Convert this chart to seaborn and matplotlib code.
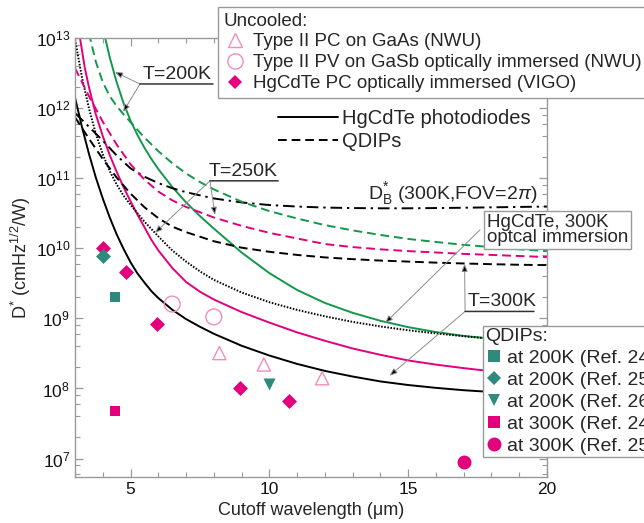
import matplotlib
matplotlib.use("Agg")
import matplotlib.pyplot as plt
from matplotlib.lines import Line2D
from matplotlib.ticker import LogLocator, MultipleLocator, NullFormatter, FixedLocator
import seaborn as sns

# ---- curves: cutoff wavelength (um) vs D* (cmHz^1/2/W) ----
pd300_x = [3.0, 3.25, 3.5, 3.75, 4.0, 4.25, 4.5, 4.75, 5.0, 5.25, 5.5, 5.75, 6.0, 6.5, 7.0, 7.5,
           8.0, 9.0, 10, 11, 12, 13, 14, 15, 16, 17, 18, 19, 20]
pd300_y = [1.41e12, 5.37e11, 2.24e11, 1.02e11, 5.13e10, 2.75e10, 1.58e10, 9.77e9, 6.31e9, 4.37e9,
           3.24e9, 2.45e9, 1.95e9, 1.33e9, 9.77e8, 7.59e8, 6.03e8, 4.07e8, 2.95e8, 2.24e8, 1.78e8,
           1.48e8, 1.26e8, 1.12e8, 1.02e8, 9.44e7, 8.91e7, 8.51e7, 8.13e7]

pd250_x = [3.17, 3.2, 3.35, 3.5, 3.75, 4.0, 4.25, 4.5, 4.75, 5.0, 5.25, 5.5, 5.75, 6.0, 6.5, 7.0,
           7.5, 8.0, 9.0, 10, 11, 12, 13, 14, 15, 16, 17, 18, 19, 20]
pd250_y = [1.07e13, 8.9e12, 3.8e12, 2.0e12, 8.1e11, 3.98e11, 2.14e11, 1.23e11, 7.41e10, 4.68e10,
           3.02e10, 2.0e10, 1.32e10, 9.33e9, 5.25e9, 3.31e9, 2.4e9, 1.86e9, 1.23e9, 8.71e8, 6.31e8,
           4.79e8, 3.72e8, 3.02e8, 2.51e8, 2.19e8, 1.95e8, 1.76e8, 1.62e8, 1.51e8]

pd200_x = [4.0, 4.25, 4.5, 4.75, 5.0, 5.25, 5.5, 5.75, 6.0, 6.5, 7.0, 7.5, 8.0, 9.0, 10, 11, 12,
           13, 14, 15, 16, 17, 18, 19, 20]
pd200_y = [1.41e13, 5.31e12, 2.34e12, 1.17e12, 6.61e11, 4.12e11, 2.72e11, 1.88e11, 1.35e11, 7.5e10,
           4.52e10, 2.88e10, 1.91e10, 8.71e9, 4.42e9, 2.54e9, 1.66e9, 1.2e9, 9.23e8, 7.5e8, 6.38e8,
           5.62e8, 5.13e8, 4.73e8, 4.47e8]

immersion_x = [3.0, 3.25, 3.5, 3.75, 4.0, 4.25, 4.5, 4.75, 5.0, 5.5, 6.0, 6.5, 7.0, 7.5, 8.0, 9.0,
               10, 11, 12, 13, 14, 15, 16, 17, 18, 19, 20]
immersion_y = [9.55e12, 2.75e12, 1.0e12, 4.27e11, 2.19e11, 1.26e11, 8.13e10, 5.62e10, 4.17e10,
               2.4e10, 1.48e10, 9.33e9, 6.46e9, 4.68e9, 3.55e9, 2.34e9, 1.7e9, 1.32e9, 1.07e9,
               8.91e8, 7.67e8, 6.76e8, 6.1e8, 5.56e8, 5.13e8, 4.79e8, 4.52e8]

blip_x = [3.0, 3.5, 4.0, 4.5, 5.0, 5.5, 6.0, 6.5, 7.0, 8.0, 9.0, 10, 11, 12, 13, 14, 15, 16, 17,
          18, 19, 20]
blip_y = [8.51e11, 5.43e11, 3.43e11, 2.11e11, 1.38e11, 1.05e11, 8.51e10, 7.21e10, 6.31e10, 5.14e10,
          4.51e10, 4.14e10, 3.94e10, 3.81e10, 3.75e10, 3.72e10, 3.72e10, 3.75e10, 3.79e10,
          3.84e10, 3.89e10, 3.94e10]

qdip200_x = [3.5, 3.75, 4.0, 4.25, 4.5, 4.75, 5.0, 5.5, 6.0, 6.5, 7.0, 7.5, 8.0, 9.0, 10, 11, 12,
             13, 14, 15, 16, 17, 18, 19, 20]
qdip200_y = [1.17e13, 4.57e12, 2.34e12, 1.48e12, 1.07e12, 8.13e11, 6.31e11, 3.8e11, 2.43e11,
             1.64e11, 1.17e11, 8.81e10, 6.92e10, 4.62e10, 3.39e10, 2.66e10, 2.14e10, 1.8e10,
             1.55e10, 1.36e10, 1.23e10, 1.12e10, 1.04e10, 9.66e9, 9.12e9]

qdip250_x = [3.0, 3.5, 4.0, 4.5, 5.0, 5.5, 6.0, 6.5, 7.0, 8.0, 9.0, 10, 11, 12, 13, 14, 15, 16,
             17, 18, 19, 20]
qdip250_y = [3.72e12, 1.48e12, 6.38e11, 3.02e11, 1.58e11, 9.55e10, 6.46e10, 4.84e10, 3.89e10,
             2.75e10, 2.09e10, 1.66e10, 1.38e10, 1.15e10, 1.04e10, 9.66e9, 9.12e9, 8.71e9,
             8.32e9, 8.04e9, 7.76e9, 7.5e9]

qdip300_x = [3.0, 3.5, 4.0, 4.5, 5.0, 5.5, 6.0, 6.5, 7.0, 8.0, 9.0, 10, 11, 12, 13, 14, 15, 16,
             17, 18, 19, 20]
qdip300_y = [7.41e11, 3.67e11, 1.88e11, 1.02e11, 6.03e10, 3.85e10, 2.69e10, 2.04e10, 1.7e10,
             1.26e10, 1.02e10, 8.91e9, 8.04e9, 7.41e9, 7.0e9, 6.68e9, 6.46e9, 6.24e9, 6.07e9,
             5.93e9, 5.82e9, 5.75e9]

# ---- measured detectors ----
t2pc_x, t2pc_y = [8.2, 9.8, 11.9], [3.2e8, 2.2e8, 1.4e8]
t2pv_x, t2pv_y = [6.5, 8.0], [1.6e9, 1.05e9]
vigo_x = [4.0, 4.85, 5.95, 8.95, 10.7]
vigo_y = [1.0e10, 4.6e9, 8.4e8, 1.0e8, 6.7e7]

q200_r24_x, q200_r24_y = [4.45], [2.0e9]
q200_r25_x, q200_r25_y = [4.0], [7.8e9]
q200_r26_x, q200_r26_y = [10.0], [1.15e8]
q300_r24_x, q300_r24_y = [4.45], [4.7e7]
q300_r25_x, q300_r25_y = [17.0], [8.8e6]

uncooled_labels = ["Type II PC on GaAs (NWU)",
                   "Type II PV on GaSb optically immersed (NWU)",
                   "HgCdTe PC optically immersed (VIGO)"]
qdip_labels = ["at 200K (Ref. 24)", "at 200K (Ref. 25)", "at 200K (Ref. 26)",
               "at 300K (Ref. 24)", "at 300K (Ref. 25)"]

GREEN = "#12984A"
MAGENTA = "#E4007C"
TEAL = "#2E8A7C"
PINK = "#F08DBD"
GREY = "#9a9a9a"

sns.set_style("ticks")
plt.rcParams["font.family"] = ["Liberation Sans", "DejaVu Sans"]
plt.rcParams["mathtext.fontset"] = "custom"
plt.rcParams["mathtext.rm"] = "Liberation Sans"
plt.rcParams["mathtext.it"] = "Liberation Sans:italic"

fig, ax = plt.subplots(figsize=(6.44, 5.23), dpi=100)
fig.subplots_adjust(left=0.1165, right=0.8494, bottom=0.088, top=0.9273)
ax.set_yscale("log")

DASH = (0, (4.5, 2.5))
curves = [
    (pd300_x, pd300_y, "black", "-"),
    (pd250_x, pd250_y, MAGENTA, "-"),
    (pd200_x, pd200_y, GREEN, "-"),
    (immersion_x, immersion_y, "black", (0, (0.8, 0.8))),
    (blip_x, blip_y, "black", (0, (6, 2.5, 1.2, 2.5))),
    (qdip200_x, qdip200_y, GREEN, DASH),
    (qdip250_x, qdip250_y, MAGENTA, DASH),
    (qdip300_x, qdip300_y, "black", DASH),
]
for cx, cy, col, ls in curves:
    sns.lineplot(x=cx, y=cy, color=col, linestyle=ls, linewidth=1.4,
                 estimator=None, sort=False, ax=ax, legend=False)

# measured points
sns.scatterplot(x=t2pc_x, y=t2pc_y, marker="^", s=90, facecolors="none",
                edgecolor=PINK, linewidth=1.0, ax=ax, legend=False, zorder=3)
sns.scatterplot(x=t2pv_x, y=t2pv_y, marker="o", s=130, facecolors="none",
                edgecolor=PINK, linewidth=1.0, ax=ax, legend=False, zorder=3)
sns.scatterplot(x=vigo_x, y=vigo_y, marker="D", s=58, color=MAGENTA,
                linewidth=0, ax=ax, legend=False, zorder=3)
sns.scatterplot(x=q200_r24_x, y=q200_r24_y, marker="s", s=62, color=TEAL,
                linewidth=0, ax=ax, legend=False, zorder=3)
sns.scatterplot(x=q200_r25_x, y=q200_r25_y, marker="D", s=58, color=TEAL,
                linewidth=0, ax=ax, legend=False, zorder=3)
sns.scatterplot(x=q200_r26_x, y=q200_r26_y, marker="v", s=75, color=TEAL,
                linewidth=0, ax=ax, legend=False, zorder=3)
sns.scatterplot(x=q300_r24_x, y=q300_r24_y, marker="s", s=62, color=MAGENTA,
                linewidth=0, ax=ax, legend=False, zorder=3)
sns.scatterplot(x=q300_r25_x, y=q300_r25_y, marker="o", s=100, color=MAGENTA,
                linewidth=0, ax=ax, legend=False, zorder=3)

# axes styling
ax.set_xlim(3, 20)
ax.set_ylim(5.46e6, 1e13)
ax.xaxis.set_major_locator(FixedLocator([5, 10, 15, 20]))
ax.xaxis.set_minor_locator(MultipleLocator(1))
ax.yaxis.set_major_locator(LogLocator(base=10, numticks=20))
ax.yaxis.set_minor_locator(LogLocator(base=10, subs=(2, 4, 6, 8), numticks=20))
ax.yaxis.set_minor_formatter(NullFormatter())
for sp in ax.spines.values():
    sp.set_visible(True)
    sp.set_color(GREY)
    sp.set_linewidth(1.0)
ax.tick_params(which="both", direction="in", top=True, right=True, color=GREY,
               labelsize=12.5, labelcolor="#111111")
ax.tick_params(which="major", length=6, width=0.9)
ax.tick_params(which="minor", length=3.5, width=0.8)
ax.set_xlabel("Cutoff wavelength (\u03bcm)", fontsize=13, labelpad=4)
ax.set_ylabel(r"D$^{*}$ (cmHz$^{1/2}$/W)", fontsize=13, labelpad=2)

# temperature labels with underline and arrows
arrow_kw = dict(arrowstyle="-|>,head_length=0.45,head_width=0.18", ec="#8c8c8c",
                fc="black", lw=0.7, shrinkA=0, shrinkB=0)
line_kw = dict(arrowstyle="-", color="#333333", lw=1.1, shrinkA=0, shrinkB=0)

temp_labels = [
    ("T=200K", 6.66, 2.29e12, (5.34, 7.97), 2.21e12, [(4.44, 3.27e12), (4.73, 8.8e11)]),
    ("T=250K", 9.07, 9.46e10, (7.86, 10.32), 9.17e10, [(8.04, 3.0e10), (5.88, 1.66e10)]),
    ("T=300K", 18.37, 1.33e9, (17.05, 19.53), 1.256e9, [(17.03, 6.0e9), (14.33, 1.52e8)]),
]
for txt, tx, ty, (ux0, ux1), uy, tips in temp_labels:
    ax.text(tx, ty, txt, ha="center", va="bottom", fontsize=14, zorder=6)
    ax.annotate("", xy=(ux1, uy), xytext=(ux0, uy), arrowprops=line_kw, zorder=6)
    for tip in tips:
        ax.annotate("", xy=tip, xytext=(ux0, uy), arrowprops=arrow_kw, zorder=5)

# immersion label box
ax.annotate("", xy=(14.17, 8.6e8), xytext=(17.59, 1.84e10), arrowprops=arrow_kw, zorder=5)
ax.text(17.84, 3.1e10, "HgCdTe, 300K\noptcal immersion", ha="left", va="top",
        fontsize=13.5, linespacing=0.85, zorder=7,
        bbox=dict(boxstyle="square,pad=0.15", fc="white", ec=GREY, lw=1.0))

ax.text(19.64, 5.98e10, r"D$^{*}_{\mathrm{B}}$ (300K,FOV=2$\pi$)", ha="right",
        va="center", fontsize=14, zorder=6)

# legends
W, H = 644.0, 523.0
unc_handles = [
    Line2D([], [], ls="", marker="^", ms=9.5, mfc="none", mec=PINK, mew=1.0),
    Line2D([], [], ls="", marker="o", ms=11, mfc="none", mec=PINK, mew=1.0),
    Line2D([], [], ls="", marker="D", ms=7.5, mfc=MAGENTA, mec=MAGENTA, mew=0),
]
fig.legend(unc_handles, uncooled_labels, title="Uncooled:", alignment="left",
           loc="upper left", bbox_to_anchor=(218 / W, 1 - 7 / H),
           fontsize=13.5, title_fontsize=13.5, frameon=True, fancybox=False,
           edgecolor=GREY, framealpha=1, borderpad=0.3, labelspacing=0.2,
           handlelength=1.2, handletextpad=0.35, borderaxespad=0)

style_handles = [Line2D([], [], color="black", lw=1.4, ls="-"),
                 Line2D([], [], color="black", lw=1.4, ls=DASH)]
fig.legend(style_handles, ["HgCdTe photodiodes", "QDIPs"], loc="upper left",
           bbox_to_anchor=(278 / W, 1 - 109 / H), fontsize=14.5, frameon=False,
           borderpad=0, labelspacing=0.2, handlelength=3.0, handletextpad=0.2,
           borderaxespad=0)

qdip_handles = [
    Line2D([], [], ls="", marker="s", ms=8, mfc=TEAL, mec=TEAL, mew=0),
    Line2D([], [], ls="", marker="D", ms=7.5, mfc=TEAL, mec=TEAL, mew=0),
    Line2D([], [], ls="", marker="v", ms=8.5, mfc=TEAL, mec=TEAL, mew=0),
    Line2D([], [], ls="", marker="s", ms=8, mfc=MAGENTA, mec=MAGENTA, mew=0),
    Line2D([], [], ls="", marker="o", ms=10, mfc=MAGENTA, mec=MAGENTA, mew=0),
]
fig.legend(qdip_handles, qdip_labels, title="QDIPs:", alignment="left",
           loc="upper left", bbox_to_anchor=(483 / W, 1 - 326 / H),
           fontsize=14, title_fontsize=14, frameon=True, fancybox=False,
           edgecolor=GREY, framealpha=1, borderpad=0.12, labelspacing=0.22,
           handlelength=0.85, handletextpad=0.25, borderaxespad=0)

fig.savefig("out.png", dpi=100)
